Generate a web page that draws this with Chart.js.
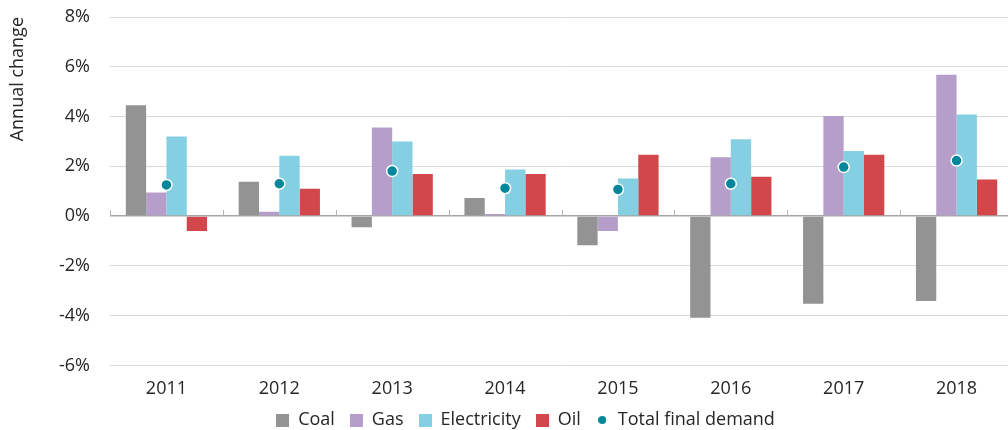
<!DOCTYPE html>
<html>
<head>
<meta charset="utf-8">
<script src="https://cdn.jsdelivr.net/npm/chart.js@4.4.1/dist/chart.umd.min.js"></script>
<style>
html, body { margin: 0; padding: 0; background: #fff; overflow: hidden; }
canvas { display: block; }
</style>
</head>
<body>
<canvas id="chart" width="1020" height="430"></canvas>
<script>
const years = ["2011", "2012", "2013", "2014", "2015", "2016", "2017", "2018"];

const coal = [4.45, 1.38, -0.45, 0.73, -1.17, -4.09, -3.52, -3.41];
const gas = [0.95, 0.17, 3.56, 0.08, -0.6, 2.36, 4.02, 5.68];
const electricity = [3.2, 2.42, 3.0, 1.87, 1.51, 3.09, 2.62, 4.08];
const oil = [-0.6, 1.1, 1.69, 1.69, 2.46, 1.58, 2.46, 1.47];
const total = [1.25, 1.3, 1.81, 1.12, 1.07, 1.3, 1.97, 2.23];

const yTicks = [-6, -4, -2, 0, 2, 4, 6, 8];

const FONT = "'Open Sans', 'Noto Sans', sans-serif";
const TEXT = "#262626";

function swatch(color, round) {

    const c = document.createElement("canvas");
    const s = round ? 8 : 13;
    c.width = s;
    c.height = s;
    const g = c.getContext("2d");
    g.fillStyle = color;

    if (round) {
        g.beginPath();
        g.arc(s / 2, s / 2, s / 2, 0, Math.PI * 2);
        g.fill();
    } else {
        g.fillRect(0, 0, s, s);
    }

    return c;

}

const tweaks = {

    id: "tweaks",

    afterLayout(chart) {
        // move the legend to where the original has it
        const lg = chart.legend;
        lg.left += 16;
        lg.right += 16;
        lg.top -= 9;
        lg.bottom -= 9;
    },

    // little tick marks on the zero line between categories
    afterDatasetsDraw(chart) {

        const x = chart.scales.x;
        const y = chart.scales.y;
        const y0 = y.getPixelForValue(0);
        const ctx = chart.ctx;

        ctx.save();
        ctx.strokeStyle = "#b3b3b3";
        ctx.lineWidth = 1;

        for (let i = 0; i <= years.length; i++) {

            let px;

            if (i == 0)
                px = x.left;
            else if (i == years.length)
                px = x.right;
            else
                px = (x.getPixelForValue(i - 1) + x.getPixelForValue(i)) / 2;

            px = Math.round(px) + 0.5;

            ctx.beginPath();
            ctx.moveTo(px, y0);
            ctx.lineTo(px, y0 - 6);
            ctx.stroke();

        }

        ctx.restore();

    }

};

const bar = (label, data, color) => ({

    type: "bar",
    label: label,
    data: data,
    backgroundColor: color,
    borderWidth: 0,
    order: 1,
    categoryPercentage: 0.72,
    barPercentage: 1

});

new Chart(document.getElementById("chart"), {

    data: {

        labels: years,

        datasets: [

            bar("Coal", coal, "#939393"),
            bar("Gas", gas, "#b59fca"),
            bar("Electricity", electricity, "#84d0e2"),
            bar("Oil", oil, "#d2474b"),

            {
                type: "line",
                label: "Total final demand",
                data: total,
                showLine: false,
                pointRadius: 5.5,
                pointHoverRadius: 5.5,
                pointBackgroundColor: "#00879b",
                pointBorderColor: "#ffffff",
                pointBorderWidth: 1.5,
                order: 0
            }

        ]

    },

    options: {

        responsive: false,
        animation: false,

        layout: {
            padding: { top: 17, right: 1, bottom: -18, left: 0 }
        },

        plugins: {

            tooltip: { enabled: false },

            legend: {

                position: "bottom",

                labels: {

                    usePointStyle: true,
                    boxWidth: 13,
                    boxHeight: 13,
                    padding: 15,
                    color: TEXT,
                    font: { family: FONT, size: 18 },

                    generateLabels(chart) {

                        return chart.data.datasets.map((ds, i) => ({

                            text: ds.label,
                            fillStyle: ds.backgroundColor || ds.pointBackgroundColor,
                            strokeStyle: "transparent",
                            lineWidth: 0,
                            pointStyle: swatch(ds.type == "line" ? ds.pointBackgroundColor : ds.backgroundColor, ds.type == "line"),
                            fontColor: TEXT,
                            hidden: false,
                            datasetIndex: i

                        }));

                    }

                }

            }

        },

        scales: {

            x: {

                afterFit(scale) {
                    scale.paddingLeft = 0;
                    scale.paddingRight = 0;
                },

                grid: { display: false },
                border: { display: false },

                ticks: {
                    color: TEXT,
                    padding: 5,
                    font: { family: FONT, size: 18 }
                }

            },

            y: {

                min: -6,
                max: 8,

                afterBuildTicks(scale) {
                    scale.ticks = yTicks.map(v => ({ value: v }));
                },

                afterFit(scale) {
                    scale.width = 110;
                    scale.paddingTop = 0;
                    scale.paddingBottom = 0;
                },

                grid: {
                    drawTicks: false,
                    color: ctx => ctx.tick && ctx.tick.value == 0 ? "#a6a6a6" : "#d9d9d9",
                    lineWidth: ctx => ctx.tick && ctx.tick.value == 0 ? 1.5 : 1
                },

                border: { display: false },

                ticks: {
                    color: TEXT,
                    padding: 20,
                    font: { family: FONT, size: 18 },
                    callback: v => v + "%"
                },

                title: {
                    display: true,
                    text: "Annual change",
                    align: "end",
                    color: TEXT,
                    padding: { top: 7, bottom: 0 },
                    font: { family: FONT, size: 18 }
                }

            }

        }

    },

    plugins: [tweaks]

});
</script>
</body>
</html>
